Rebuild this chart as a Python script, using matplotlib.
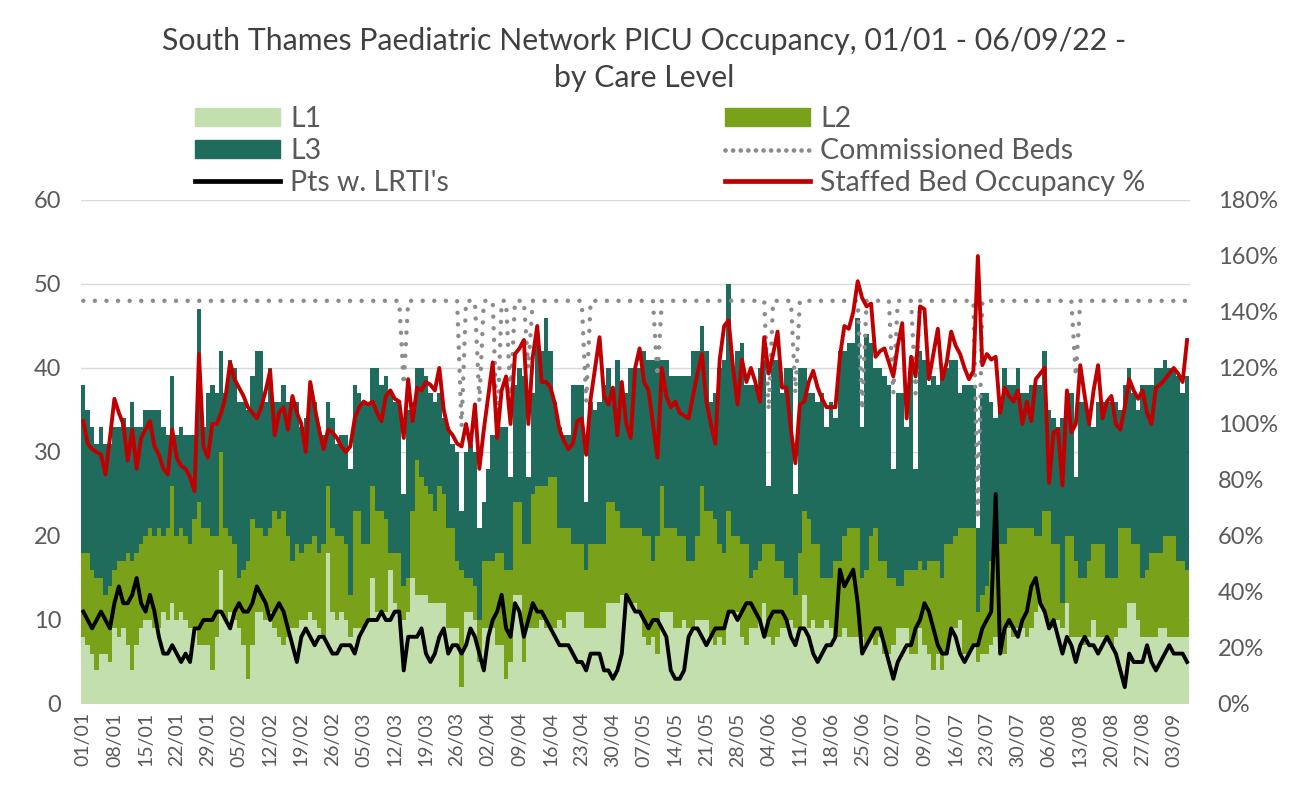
import matplotlib
matplotlib.use("Agg")
import matplotlib.pyplot as plt
from matplotlib.lines import Line2D
from matplotlib.patches import Patch
import numpy as np
import pandas as pd

plt.rcParams["font.family"] = ["Lato", "DejaVu Sans"]

# daily patients by care level, 01/01/22 - 06/09/22
l1 = [
    8, 7, 6, 4, 6, 6, 5, 9, 8, 9,
    7, 4, 7, 9, 10, 10, 9, 9, 11, 10,
    12, 10, 11, 10, 9, 9, 7, 7, 7, 4,
    8, 16, 10, 11, 10, 9, 7, 3, 7, 11,
    11, 10, 11, 9, 8, 7, 8, 9, 9, 10,
    10, 11, 10, 9, 8, 18, 11, 10, 11, 10,
    8, 9, 9, 9, 10, 15, 11, 11, 11, 16,
    12, 11, 10, 11, 15, 13, 13, 13, 12, 12,
    12, 12, 9, 9, 9, 2, 11, 11, 10, 5,
    9, 9, 9, 7, 7, 3, 5, 13, 13, 5,
    9, 9, 9, 10, 9, 9, 9, 10, 9, 11,
    11, 11, 11, 9, 9, 9, 9, 9, 12, 12,
    12, 13, 13, 12, 12, 11, 8, 7, 8, 6,
    11, 11, 11, 9, 9, 10, 9, 9, 10, 10,
    10, 8, 7, 8, 7, 11, 11, 11, 8, 7,
    9, 9, 10, 12, 8, 7, 8, 9, 9, 10,
    9, 9, 13, 9, 10, 9, 9, 10, 9, 8,
    8, 9, 8, 8, 8, 8, 7, 8, 7, 8,
    6, 6, 7, 9, 9, 9, 6, 6, 9, 7,
    6, 4, 6, 4, 6, 9, 9, 10, 6, 6,
    7, 5, 6, 6, 7, 8, 7, 6, 9, 8,
    9, 9, 8, 9, 11, 12, 11, 9, 9, 10,
    9, 12, 8, 8, 8, 7, 8, 10, 8, 8,
    8, 7, 8, 9, 9, 12, 12, 10, 8, 8,
    8, 8, 9, 9, 8, 8, 8, 8, 8,
]
l2 = [
    10, 11, 10, 11, 9, 7, 9, 7, 9, 8,
    11, 13, 11, 10, 10, 11, 11, 12, 9, 11,
    14, 10, 10, 10, 10, 13, 17, 14, 14, 16,
    12, 14, 11, 9, 9, 6, 9, 14, 15, 10,
    10, 10, 10, 14, 14, 16, 12, 8, 10, 8,
    9, 8, 10, 9, 11, 8, 10, 10, 9, 9,
    5, 14, 14, 10, 9, 11, 12, 12, 11, 2,
    6, 7, 4, 4, 8, 16, 14, 13, 13, 11,
    14, 13, 12, 12, 8, 14, 4, 4, 4, 5,
    8, 8, 8, 11, 11, 13, 11, 11, 11, 14,
    10, 16, 17, 16, 17, 18, 18, 11, 12, 10,
    8, 8, 8, 7, 10, 10, 10, 10, 12, 12,
    11, 8, 8, 9, 9, 10, 12, 13, 9, 14,
    15, 10, 10, 12, 11, 10, 8, 8, 10, 16,
    13, 15, 15, 11, 11, 12, 9, 9, 11, 12,
    6, 7, 7, 7, 11, 12, 9, 8, 6, 5,
    4, 9, 10, 13, 9, 10, 6, 5, 6, 9,
    9, 11, 13, 13, 13, 7, 9, 12, 14, 9,
    11, 9, 8, 5, 5, 7, 10, 10, 8, 9,
    11, 13, 11, 11, 13, 10, 11, 11, 15, 15,
    14, 6, 7, 8, 10, 11, 12, 13, 12, 13,
    12, 12, 13, 12, 9, 8, 12, 14, 10, 9,
    3, 8, 12, 9, 7, 8, 9, 9, 11, 11,
    7, 8, 7, 12, 12, 9, 7, 9, 7, 8,
    10, 10, 9, 11, 12, 12, 9, 9, 8,
]
l3 = [
    20, 17, 17, 16, 18, 18, 17, 17, 16, 17,
    15, 19, 15, 14, 15, 14, 15, 14, 13, 11,
    13, 12, 12, 12, 13, 10, 23, 12, 16, 18,
    17, 12, 16, 21, 21, 21, 20, 18, 17, 21,
    21, 16, 19, 13, 14, 15, 16, 19, 17, 15,
    15, 19, 16, 15, 13, 10, 13, 11, 12, 13,
    15, 15, 14, 17, 17, 14, 17, 15, 17, 19,
    18, 18, 11, 20, 13, 11, 13, 13, 12, 13,
    11, 9, 12, 10, 13, 7, 15, 16, 16, 11,
    7, 11, 15, 14, 15, 17, 11, 14, 16, 20,
    8, 12, 18, 16, 20, 15, 9, 12, 11, 11,
    19, 19, 19, 8, 17, 16, 17, 19, 16, 13,
    18, 16, 16, 19, 19, 19, 22, 21, 24, 21,
    15, 20, 18, 18, 19, 19, 22, 25, 22, 19,
    19, 13, 15, 21, 23, 27, 20, 22, 24, 19,
    23, 22, 23, 22, 7, 22, 24, 20, 25, 25,
    12, 22, 17, 15, 18, 17, 22, 18, 21, 17,
    25, 22, 22, 22, 25, 18, 28, 23, 19, 23,
    22, 23, 13, 23, 23, 17, 24, 12, 25, 25,
    21, 22, 21, 25, 21, 22, 21, 16, 17, 17,
    17, 10, 24, 23, 19, 15, 16, 21, 17, 17,
    19, 16, 16, 17, 18, 18, 19, 12, 15, 14,
    22, 17, 17, 10, 21, 21, 18, 14, 17, 17,
    21, 21, 21, 14, 17, 19, 18, 16, 23, 22,
    20, 22, 22, 21, 20, 20, 22, 20, 23,
]
commissioned = [
    48, 48, 48, 48, 48, 48, 48, 48, 48, 48,
    48, 48, 48, 48, 48, 48, 48, 48, 48, 48,
    48, 48, 48, 48, 48, 48, 48, 48, 48, 48,
    48, 48, 48, 48, 48, 48, 48, 48, 48, 48,
    48, 48, 48, 48, 48, 48, 48, 48, 48, 48,
    48, 48, 48, 48, 48, 48, 48, 48, 48, 48,
    48, 48, 48, 48, 48, 48, 48, 48, 48, 48,
    48, 48, 38, 48, 48, 48, 48, 48, 48, 48,
    48, 48, 48, 48, 48, 33, 48, 48, 48, 36,
    48, 48, 48, 32, 48, 48, 36, 48, 48, 48,
    40, 48, 48, 48, 48, 48, 48, 48, 48, 48,
    48, 48, 48, 36, 48, 48, 48, 48, 48, 48,
    48, 48, 48, 48, 48, 48, 48, 48, 48, 39,
    48, 48, 48, 48, 48, 48, 48, 48, 48, 48,
    48, 48, 48, 48, 48, 48, 48, 48, 48, 48,
    48, 48, 48, 48, 35, 48, 48, 48, 48, 48,
    37, 48, 48, 48, 48, 48, 48, 48, 48, 48,
    48, 48, 48, 48, 48, 35, 48, 48, 48, 48,
    48, 48, 37, 48, 48, 48, 48, 37, 48, 48,
    48, 48, 48, 48, 48, 48, 48, 48, 48, 48,
    48, 22, 48, 48, 48, 48, 48, 48, 48, 48,
    48, 48, 48, 48, 48, 48, 48, 48, 48, 48,
    48, 48, 48, 39, 48, 48, 48, 48, 48, 48,
    48, 48, 48, 48, 48, 48, 48, 48, 48, 48,
    48, 48, 48, 48, 48, 48, 48, 48, 48,
]
lrti = [
    11, 10, 9, 10, 11, 10, 9, 12, 14, 12,
    12, 13, 15, 12, 11, 13, 11, 8, 6, 6,
    7, 6, 5, 6, 5, 9, 9, 10, 10, 10,
    11, 11, 10, 9, 11, 12, 11, 11, 12, 14,
    13, 12, 10, 11, 12, 11, 9, 7, 5, 8,
    9, 8, 7, 8, 8, 7, 6, 6, 7, 7,
    7, 6, 8, 9, 10, 10, 10, 11, 10, 10,
    11, 11, 4, 8, 8, 8, 9, 6, 5, 6,
    8, 9, 6, 7, 7, 6, 7, 9, 8, 6,
    4, 8, 10, 11, 13, 9, 8, 12, 11, 8,
    10, 12, 11, 11, 10, 9, 8, 7, 7, 7,
    6, 5, 5, 4, 6, 6, 6, 4, 4, 3,
    4, 6, 13, 12, 11, 11, 10, 9, 10, 10,
    9, 8, 4, 3, 3, 4, 8, 9, 9, 8,
    7, 8, 9, 9, 9, 11, 11, 10, 11, 12,
    12, 11, 10, 8, 10, 11, 11, 11, 10, 8,
    7, 9, 9, 8, 6, 5, 6, 7, 7, 8,
    16, 14, 15, 16, 12, 6, 7, 8, 9, 9,
    7, 5, 3, 5, 6, 7, 7, 9, 10, 12,
    11, 9, 7, 6, 6, 9, 8, 6, 5, 6,
    7, 7, 9, 10, 11, 25, 6, 9, 10, 9,
    8, 10, 11, 14, 15, 12, 11, 9, 10, 8,
    6, 8, 7, 5, 7, 8, 7, 7, 6, 7,
    8, 7, 6, 4, 2, 6, 5, 5, 5, 7,
    5, 4, 5, 6, 7, 6, 6, 6, 5,
]
# staffed bed occupancy, percent
occupancy = [
    101, 93, 91, 90, 89, 82, 95, 109, 104, 100,
    87, 98, 84, 95, 98, 101, 92, 89, 84, 82,
    98, 88, 85, 84, 81, 76, 125, 92, 88, 100,
    100, 104, 110, 122, 116, 113, 110, 106, 104, 102,
    106, 112, 119, 96, 104, 106, 98, 110, 104, 100,
    90, 115, 106, 98, 91, 98, 97, 95, 92, 90,
    92, 102, 106, 108, 107, 108, 104, 101, 110, 112,
    109, 108, 95, 116, 101, 113, 112, 115, 114, 112,
    120, 105, 98, 96, 93, 92, 100, 92, 107, 84,
    98, 110, 122, 95, 112, 117, 100, 125, 127, 130,
    100, 124, 135, 115, 115, 113, 107, 98, 94, 91,
    93, 101, 102, 89, 109, 120, 131, 110, 107, 113,
    96, 115, 100, 95, 120, 127, 115, 112, 100, 88,
    120, 110, 106, 108, 104, 103, 102, 110, 118, 125,
    108, 100, 93, 123, 135, 137, 120, 107, 123, 115,
    120, 115, 108, 131, 118, 125, 133, 113, 113, 98,
    86, 107, 108, 115, 119, 113, 109, 106, 106, 106,
    124, 135, 134, 140, 151, 145, 142, 143, 124, 126,
    127, 122, 117, 128, 136, 102, 124, 117, 142, 141,
    116, 125, 134, 116, 122, 133, 128, 125, 120, 116,
    119, 160, 121, 125, 123, 124, 104, 113, 110, 108,
    112, 100, 108, 101, 116, 118, 120, 79, 97, 98,
    78, 112, 97, 100, 121, 110, 100, 112, 121, 102,
    108, 110, 100, 98, 106, 116, 112, 109, 112, 104,
    100, 113, 114, 116, 118, 120, 118, 115, 130,
]

dates = pd.date_range("2022-01-01", periods=len(l1), freq="D")
x = np.arange(len(dates))
l1 = np.array(l1)
l2 = np.array(l2)
l3 = np.array(l3)

c_l1 = "#c3dfae"
c_l2 = "#79a21a"
c_l3 = "#1f6b5c"
c_red = "#c00000"
c_dot = "#8c8c8c"
c_text = "#595959"

fig = plt.figure(figsize=(12.89, 7.88), dpi=100)
ax = fig.add_axes([0.0625, 0.1066, 0.8605, 0.6396])

ax.bar(x, l1, width=1.0, color=c_l1, linewidth=0, zorder=2)
ax.bar(x, l2, width=1.0, bottom=l1, color=c_l2, linewidth=0, zorder=2)
ax.bar(x, l3, width=1.0, bottom=l1 + l2, color=c_l3, linewidth=0, zorder=2)
ax.plot(x, commissioned, color=c_dot, lw=3.2, linestyle=(0, (0.01, 2.6)),
        dash_capstyle="round", zorder=3)
ax.plot(x, lrti, color="black", lw=2.8, zorder=4)

ax.set_xlim(-0.6, len(x) - 0.4)
ax.set_ylim(0, 60)
ax.set_yticks(range(0, 61, 10))
ax.grid(axis="y", color="#d9d9d9", lw=1.0, zorder=0)
ax.set_axisbelow(True)
ax.set_xticks(x[::7])
ax.set_xticklabels(dates[::7].strftime("%d/%m"), rotation=90)
ax.tick_params(axis="x", length=0, pad=6, labelsize=14, labelcolor=c_text)
ax.tick_params(axis="y", length=0, pad=14, labelsize=17, labelcolor=c_text)
for s in ax.spines.values():
    s.set_visible(False)

ax2 = ax.twinx()
ax2.plot(x, np.array(occupancy) / 100, color=c_red, lw=2.8, zorder=5)
ax2.set_ylim(0, 1.8)
ax2.set_yticks(np.arange(0, 1.81, 0.2))
ax2.set_yticklabels([f"{int(round(v * 100))}%" for v in np.arange(0, 1.81, 0.2)])
ax2.tick_params(axis="y", length=0, pad=20, labelsize=17, labelcolor=c_text)
for s in ax2.spines.values():
    s.set_visible(False)

fig.text(0.5, 0.966, "South Thames Paediatric Network PICU Occupancy, 01/01 - 06/09/22 -\nby Care Level",
         ha="center", va="top", fontsize=21.8, color="#404040", linespacing=1.38)

handles = [
    Patch(color=c_l1), Patch(color=c_l3),
    Line2D([], [], color="black", lw=3.4),
    Patch(color=c_l2),
    Line2D([], [], color=c_dot, lw=3.4, linestyle=(0, (0.01, 1.6)), dash_capstyle="round"),
    Line2D([], [], color=c_red, lw=3.4),
]
labels = ["L1", "L3", "Pts w. LRTI's", "L2", "Commissioned Beds", "Staffed Bed Occupancy %"]
fig.legend(handles, labels, ncol=2, loc="upper left", bbox_to_anchor=(0.151, 0.865),
           frameon=False, fontsize=20.5, labelcolor=c_text, handlelength=3.0,
           handleheight=0.6, handletextpad=0.35, labelspacing=0.2, columnspacing=9.7,
           borderpad=0, borderaxespad=0)

fig.savefig("out.png", dpi=100)
